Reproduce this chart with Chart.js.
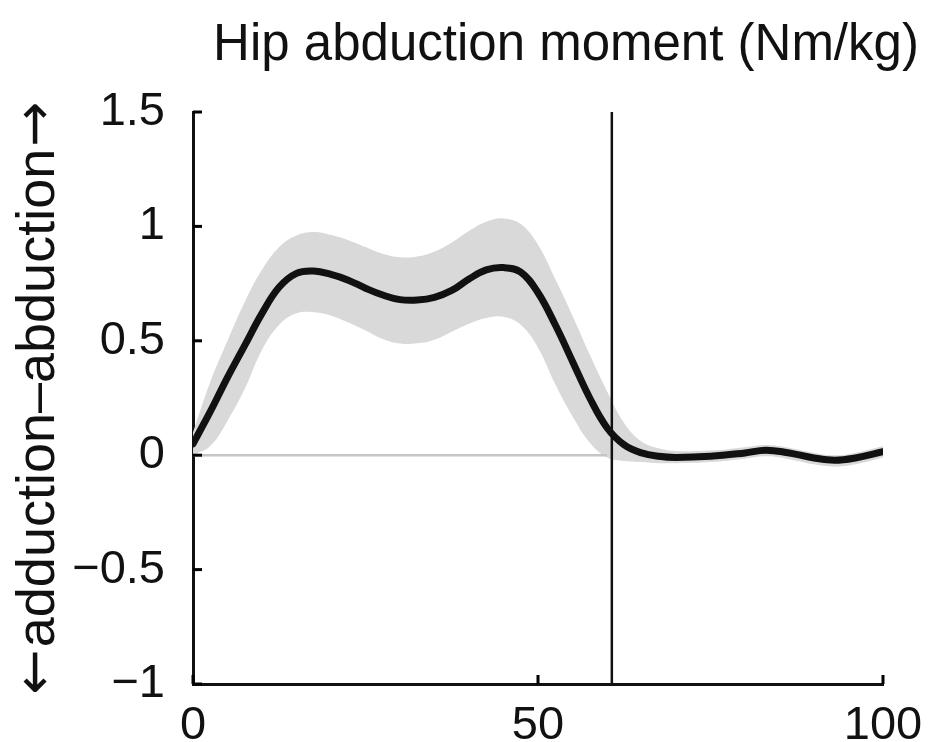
<!DOCTYPE html>
<html><head><meta charset="utf-8">
<script src="https://cdn.jsdelivr.net/npm/chart.js@4.4.1/dist/chart.umd.min.js"></script>
<style>html,body{margin:0;padding:0;background:#fff}#wrap{width:932px;height:742px}</style>
</head><body><div id="wrap"><canvas id="c" width="932" height="742"></canvas></div>
<script>
// ---- data ----
const gaitPercent = [0, 2.5, 5, 7.5, 10, 12.5, 15, 17.5, 20, 22.5, 25, 27.5, 30, 32.5, 35, 37.5, 40, 42.5, 45, 47.5, 50, 52.5, 55, 57.5, 60, 62.5, 65, 67.5, 70, 75, 80, 83, 86, 90, 93, 96, 100];
const meanMoment = [0.05, 0.19, 0.34, 0.48, 0.62, 0.735, 0.795, 0.805, 0.79, 0.765, 0.73, 0.70, 0.68, 0.678, 0.69, 0.72, 0.77, 0.81, 0.82, 0.80, 0.71, 0.57, 0.41, 0.25, 0.12, 0.045, 0.01, -0.005, -0.01, -0.005, 0.01, 0.022, 0.012, -0.012, -0.022, -0.012, 0.015];
const upperBand = [0.10, 0.32, 0.50, 0.67, 0.81, 0.91, 0.96, 0.975, 0.962, 0.94, 0.91, 0.88, 0.865, 0.868, 0.89, 0.93, 0.98, 1.02, 1.035, 1.01, 0.92, 0.77, 0.61, 0.44, 0.28, 0.14, 0.06, 0.03, 0.018, 0.02, 0.035, 0.045, 0.035, 0.01, 0.0, 0.01, 0.04];
const lowerBand = [0.0, 0.04, 0.15, 0.29, 0.46, 0.57, 0.62, 0.625, 0.61, 0.58, 0.545, 0.508, 0.488, 0.489, 0.505, 0.54, 0.575, 0.60, 0.605, 0.57, 0.47, 0.31, 0.17, 0.055, -0.01, -0.025, -0.03, -0.035, -0.035, -0.03, -0.015, -0.005, -0.015, -0.04, -0.05, -0.04, -0.01];
const toeOff = 60.7;
const zeroLineEnd = 60;
const xTicks = [0, 50, 100];
const yTicks = [-1, -0.5, 0, 0.5, 1, 1.5];
const titleText = "Hip abduction moment (Nm/kg)";
const yAxisParts = ["\u2190", "adduction\u2013abduction", "\u2192"];

const FONT = "'Liberation Sans', Arial, Helvetica, sans-serif";
const ARROWFONT = "'DejaVu Sans', sans-serif";
const pts = ys => gaitPercent.map((x, i) => ({x: x, y: ys[i]}));

const inwardTicks = {
  id: 'inwardTicks',
  afterDatasetsDraw(chart) {
    const {ctx, scales: {x, y}, chartArea: a} = chart;
    ctx.save();
    ctx.strokeStyle = '#000';
    ctx.lineWidth = 3;
    x.ticks.forEach(t => {
      const px = x.getPixelForValue(t.value);
      ctx.beginPath(); ctx.moveTo(px, a.bottom); ctx.lineTo(px, a.bottom - 9); ctx.stroke();
    });
    y.ticks.forEach(t => {
      const py = y.getPixelForValue(t.value);
      ctx.beginPath(); ctx.moveTo(a.left, py); ctx.lineTo(a.left + 9, py); ctx.stroke();
    });
    ctx.restore();
  }
};

const texts = {
  id: 'texts',
  afterDraw(chart) {
    const {ctx, chartArea: a} = chart;
    ctx.save();
    ctx.fillStyle = '#111';
    ctx.font = "51px " + FONT;
    ctx.textAlign = 'center';
    ctx.textBaseline = 'alphabetic';
    ctx.fillText(titleText, 566, 60);
    // rotated y-axis label, arrows in a font with long arrow glyphs
    ctx.translate(54, (a.top + a.bottom) / 2);
    ctx.rotate(-Math.PI / 2);
    ctx.textAlign = 'left';
    const fonts = ["54px " + ARROWFONT, "54px " + FONT, "54px " + ARROWFONT];
    const widths = yAxisParts.map((s, i) => { ctx.font = fonts[i]; return ctx.measureText(s).width; });
    const gap = 2;
    let cx = -(widths.reduce((p, q) => p + q, 0) + 2 * gap) / 2;
    yAxisParts.forEach((s, i) => {
      ctx.font = fonts[i];
      ctx.fillText(s, cx, i === 1 ? 0 : -2);
      cx += widths[i] + gap;
    });
    ctx.restore();
  }
};

new Chart(document.getElementById('c'), {
  type: 'line',
  data: {
    datasets: [
      {data: pts(upperBand), borderWidth: 0, pointRadius: 0, fill: '+1', backgroundColor: '#d9d9d9', borderColor: 'rgba(0,0,0,0)', tension: 0.4, order: 10},
      {data: pts(lowerBand), borderWidth: 0, pointRadius: 0, fill: false, borderColor: 'rgba(0,0,0,0)', tension: 0.4, order: 9},
      {data: [{x: 0, y: 0}, {x: zeroLineEnd, y: 0}], borderWidth: 2.5, borderColor: '#c6c6c6', pointRadius: 0, fill: false, order: 5},
      {data: [{x: toeOff, y: yTicks[0]}, {x: toeOff, y: yTicks[yTicks.length - 1]}], borderWidth: 2.5, borderColor: '#111', pointRadius: 0, fill: false, order: 3},
      {data: pts(meanMoment), borderWidth: 7, borderColor: '#111', pointRadius: 0, fill: false, tension: 0.4, borderCapStyle: 'round', order: 1}
    ]
  },
  options: {
    responsive: false,
    animation: false,
    devicePixelRatio: 1,
    layout: {padding: {top: 112, right: 49, left: 0, bottom: 0}},
    plugins: {legend: {display: false}, tooltip: {enabled: false}, title: {display: false}},
    scales: {
      x: {
        type: 'linear', min: 0, max: 100,
        afterBuildTicks: s => { s.ticks = xTicks.map(v => ({value: v})); },
        afterFit: s => { s.height = 58; s.paddingLeft = 0; s.paddingRight = 0; },
        grid: {display: false, drawTicks: false},
        border: {display: true, color: '#111', width: 3},
        ticks: {padding: 14, color: '#111', font: {family: FONT, size: 47}, maxRotation: 0, autoSkip: false,
                callback: v => String(v)}
      },
      y: {
        type: 'linear', min: -1, max: 1.5,
        afterBuildTicks: s => { s.ticks = yTicks.map(v => ({value: v})); },
        afterFit: s => { s.width = 193; s.paddingTop = 0; s.paddingBottom = 0; },
        grid: {display: false, drawTicks: false},
        border: {display: true, color: '#111', width: 3},
        ticks: {padding: 28, color: '#111', font: {family: FONT, size: 47}, autoSkip: false,
                callback: v => (v < 0 ? '\u2212' + Math.abs(v) : String(v))}
      }
    }
  },
  plugins: [inwardTicks, texts]
});
</script>
</body></html>
